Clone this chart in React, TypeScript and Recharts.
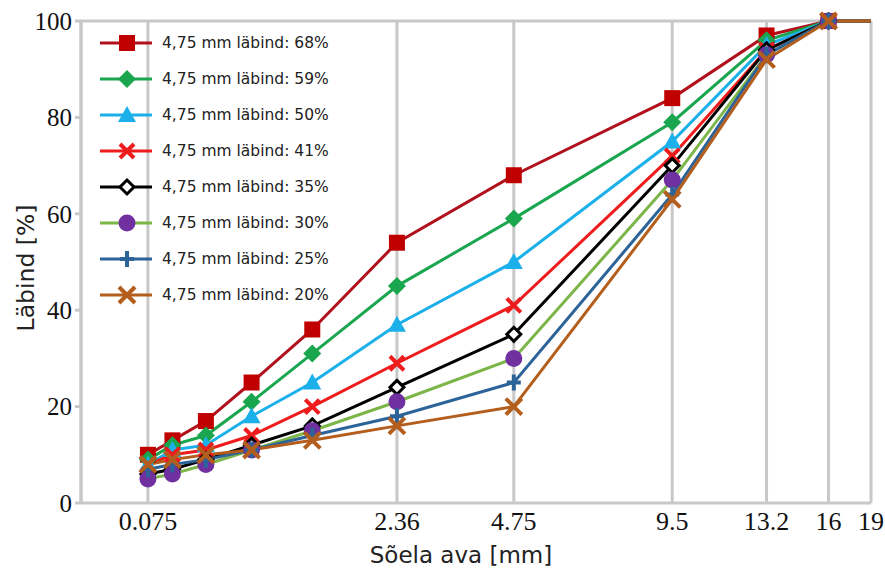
import { LineChart, Line, XAxis, YAxis, CartesianGrid, Legend, Label } from "recharts";

// sieve openings (mm) and passing (%) per mix
const sieveSizes = [0.075, 0.15, 0.3, 0.6, 1.18, 2.36, 4.75, 9.5, 13.2, 16, 19];
const pass68 = [10, 13, 17, 25, 36, 54, 68, 84, 97, 100, 100];
const pass59 = [9, 12, 14, 21, 31, 45, 59, 79, 96, 100, 100];
const pass50 = [8, 11, 12, 18, 25, 37, 50, 75, 95, 100, 100];
const pass41 = [8, 10, 11, 14, 20, 29, 41, 72, 94, 100, 100];
const pass35 = [6, 7, 9, 12, 16, 24, 35, 70, 94, 100, 100];
const pass30 = [5, 6, 8, 11, 15, 21, 30, 67, 93, 100, 100];
const pass25 = [7, 8, 9, 11, 14, 18, 25, 64, 93, 100, 100];
const pass20 = [8, 9, 10, 11, 13, 16, 20, 63, 92, 100, 100];

const xTickSizes = [0.075, 2.36, 4.75, 9.5, 13.2, 16];
const xTickLabels = ["0.075", "2.36", "4.75", "9.5", "13.2", "16", "19"];
const yTicks = [0, 20, 40, 60, 80, 100];

// 0.45 power chart
const pw = (d: number) => Math.pow(d, 0.45);
const X_MAX = 3.68;

const data = sieveSizes.map((s, i) => ({
  t: pw(s),
  p68: pass68[i],
  p59: pass59[i],
  p50: pass50[i],
  p41: pass41[i],
  p35: pass35[i],
  p30: pass30[i],
  p25: pass25[i],
  p20: pass20[i],
}));

type Shape = "square" | "diamond" | "triangle" | "star" | "hollowDiamond" | "circle" | "plus" | "cross";

const series: { key: string; name: string; line: string; mark: string; shape: Shape }[] = [
  { key: "p68", name: "4,75 mm läbind: 68%", line: "#b0111c", mark: "#c00000", shape: "square" },
  { key: "p59", name: "4,75 mm läbind: 59%", line: "#1aa64f", mark: "#1aa64f", shape: "diamond" },
  { key: "p50", name: "4,75 mm läbind: 50%", line: "#1bb0ea", mark: "#1bb0ea", shape: "triangle" },
  { key: "p41", name: "4,75 mm läbind: 41%", line: "#ee1c1c", mark: "#ee1c1c", shape: "star" },
  { key: "p35", name: "4,75 mm läbind: 35%", line: "#000000", mark: "#000000", shape: "hollowDiamond" },
  { key: "p30", name: "4,75 mm läbind: 30%", line: "#7cb548", mark: "#7030a0", shape: "circle" },
  { key: "p25", name: "4,75 mm läbind: 25%", line: "#2c6399", mark: "#2c6399", shape: "plus" },
  { key: "p20", name: "4,75 mm läbind: 20%", line: "#b35e1d", mark: "#b35e1d", shape: "cross" },
];

function Marker({ cx, cy, shape, color }: { cx: number; cy: number; shape: Shape; color: string }) {
  switch (shape) {
    case "square":
      return <rect x={cx - 8} y={cy - 8} width={16} height={16} fill={color} />;
    case "diamond":
      return <polygon points={`${cx},${cy - 9} ${cx + 9},${cy} ${cx},${cy + 9} ${cx - 9},${cy}`} fill={color} />;
    case "triangle":
      return <polygon points={`${cx},${cy - 9} ${cx + 9},${cy + 7} ${cx - 9},${cy + 7}`} fill={color} />;
    case "star":
      return (
        <g stroke={color} strokeWidth={4}>
          <line x1={cx - 7} y1={cy - 7} x2={cx + 7} y2={cy + 7} />
          <line x1={cx - 7} y1={cy + 7} x2={cx + 7} y2={cy - 7} />
        </g>
      );
    case "hollowDiamond":
      return (
        <polygon
          points={`${cx},${cy - 7} ${cx + 7},${cy} ${cx},${cy + 7} ${cx - 7},${cy}`}
          fill="#fff"
          stroke={color}
          strokeWidth={3}
        />
      );
    case "circle":
      return <circle cx={cx} cy={cy} r={8.5} fill={color} />;
    case "plus":
      return (
        <g stroke={color} strokeWidth={4}>
          <line x1={cx - 7} y1={cy} x2={cx + 7} y2={cy} />
          <line x1={cx} y1={cy - 8} x2={cx} y2={cy + 8} />
        </g>
      );
    default:
      return (
        <g stroke={color} strokeWidth={4}>
          <line x1={cx - 8} y1={cy - 8} x2={cx + 8} y2={cy + 8} />
          <line x1={cx - 8} y1={cy + 8} x2={cx + 8} y2={cy - 8} />
        </g>
      );
  }
}

function LegendBox() {
  return (
    <div style={{ fontFamily: "DejaVu Sans", fontSize: 15.5, color: "#222" }}>
      {series.map((s) => (
        <div key={s.key} style={{ display: "flex", alignItems: "center", height: 36 }}>
          <svg width={56} height={24} style={{ marginRight: 6 }}>
            <line x1={0} y1={12} x2={52} y2={12} stroke={s.line} strokeWidth={3} />
            <Marker cx={27} cy={12} shape={s.shape} color={s.mark} />
          </svg>
          <span>{s.name}</span>
        </div>
      ))}
    </div>
  );
}

export default function App() {
  return (
    <div style={{ position: "absolute", left: 0, top: 0, background: "#fff" }}>
      <LineChart width={885} height={570} data={data} margin={{ top: 21, right: 14, left: 0, bottom: 0 }}>
        <CartesianGrid stroke="#c8c8c8" strokeWidth={3} horizontalValues={[100]} />
        <XAxis
          type="number"
          dataKey="t"
          domain={[0, X_MAX]}
          allowDataOverflow
          ticks={[...xTickSizes.map(pw), X_MAX]}
          interval={0}
          tickFormatter={(v: number, i: number) => xTickLabels[i]}
          tickLine={false}
          tickSize={0}
          tickMargin={9}
          height={67}
          axisLine={{ stroke: "#c8c8c8", strokeWidth: 3 }}
          tick={{ fill: "#111", fontFamily: "Liberation Serif", fontSize: 26 }}
        >
          <Label
            content={() => (
              <text x={461} y={563} textAnchor="middle" fontFamily="DejaVu Sans" fontSize={23} fill="#222">
                Sõela ava [mm]
              </text>
            )}
          />
        </XAxis>
        <YAxis
          type="number"
          domain={[0, 100]}
          ticks={yTicks}
          interval={0}
          width={81}
          tickSize={6}
          tickMargin={3}
          tickLine={{ stroke: "#c8c8c8", strokeWidth: 3 }}
          axisLine={{ stroke: "#c8c8c8", strokeWidth: 3 }}
          tick={{ fill: "#111", fontFamily: "Liberation Serif", fontSize: 25 }}
        >
          <Label
            content={() => (
              <text
                x={26}
                y={268}
                transform="rotate(-90 26 268)"
                textAnchor="middle"
                dominantBaseline="central"
                fontFamily="DejaVu Sans"
                fontSize={23.5}
                fill="#222"
              >
                Läbind [%]
              </text>
            )}
          />
        </YAxis>
        <Legend
          layout="vertical"
          align="center"
          verticalAlign="middle"
          wrapperStyle={{ top: 25, left: 100, width: 260 }}
          content={() => <LegendBox />}
        />
        {series.map((s) => (
          <Line
            key={s.key}
            dataKey={s.key}
            name={s.name}
            type="linear"
            stroke={s.line}
            strokeWidth={3}
            isAnimationActive={false}
            activeDot={false}
            dot={(p: any) =>
              p.index === sieveSizes.length - 1 ? (
                <g key={`${s.key}-${p.index}`} />
              ) : (
                <g key={`${s.key}-${p.index}`}>
                  <Marker cx={p.cx} cy={p.cy} shape={s.shape} color={s.mark} />
                </g>
              )
            }
          />
        ))}
      </LineChart>
    </div>
  );
}
